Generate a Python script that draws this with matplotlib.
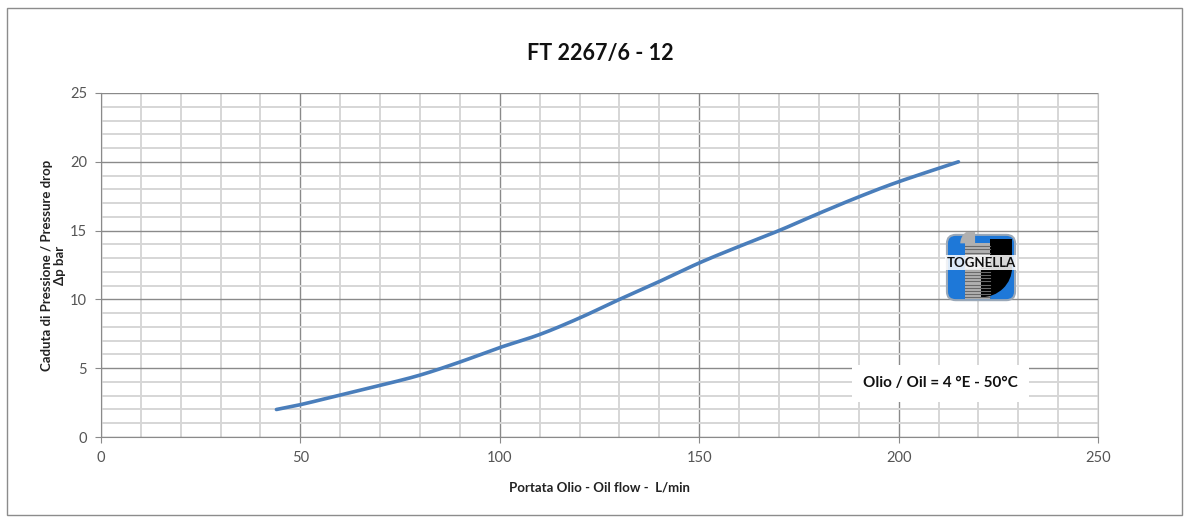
import matplotlib.pyplot as plt
from matplotlib.patches import FancyBboxPatch, Rectangle, Wedge
import numpy as np

flow = [44, 50, 60, 70, 80, 90, 100, 110, 120, 130, 140, 150, 160, 170, 180, 190, 200, 215]
dp = [2.0, 2.35, 3.05, 3.75, 4.5, 5.45, 6.5, 7.45, 8.65, 10.0, 11.3, 12.65,
      13.85, 15.0, 16.25, 17.45, 18.55, 20.0]

x_ticks = [0, 50, 100, 150, 200, 250]
y_ticks = [0, 5, 10, 15, 20, 25]


def catmull_rom(xs, ys, n=20):
    # smooth line through the points, like Excel's "smoothed line"
    p = np.column_stack([xs, ys]).astype(float)
    p = np.vstack([p[0], p, p[-1]])
    out = []
    for i in range(1, len(p) - 2):
        p0, p1, p2, p3 = p[i - 1], p[i], p[i + 1], p[i + 2]
        t = np.linspace(0, 1, n, endpoint=False)[:, None]
        out.append(0.5 * (2 * p1 + (-p0 + p2) * t + (2 * p0 - 5 * p1 + 4 * p2 - p3) * t**2
                          + (-p0 + 3 * p1 - 3 * p2 + p3) * t**3))
    out.append(p[-2][None, :])
    out = np.vstack(out)
    return out[:, 0], out[:, 1]


plt.rcParams['font.family'] = ['Lato', 'DejaVu Sans']

fig = plt.figure(figsize=(11.89, 5.21), dpi=100)
ax = fig.add_axes([0.0849, 0.1612, 0.8386, 0.6603])

# outer frame
fig.patches.append(Rectangle((0.006, 0.012), 0.988, 0.972, transform=fig.transFigure,
                             fill=False, edgecolor='#8c8c8c', linewidth=1))

ax.set_xlim(0, 250)
ax.set_ylim(0, 25)
ax.set_xticks(x_ticks)
ax.set_yticks(y_ticks)
ax.set_xticks(np.arange(0, 251, 10), minor=True)
ax.set_yticks(np.arange(0, 26, 1), minor=True)
ax.grid(which='minor', color='#d6d6d6', linewidth=1.4)
ax.grid(which='major', color='#8a8a8a', linewidth=1.0)
ax.set_axisbelow(True)
ax.tick_params(which='minor', length=0)
ax.tick_params(which='major', length=4, color='#8a8a8a', labelsize=10.5,
               labelcolor='#555555', pad=6)
for s in ax.spines.values():
    s.set_color('#8a8a8a')
ax.spines['top'].set_visible(False)
ax.spines['right'].set_color('#c0c0c0')

sx, sy = catmull_rom(flow, dp)
ax.plot(sx, sy, color='#4a7ebb', linewidth=2.6, solid_capstyle='round', zorder=3)

fig.text(0.505, 0.898, 'FT 2267/6 - 12', ha='center', va='center',
         fontsize=15.5, fontweight='bold', color='#111111')
ax.set_xlabel('Portata Olio - Oil flow -  L/min', fontsize=9.5, fontweight='bold',
              color='#222222', labelpad=12)
ax.set_ylabel('Caduta di Pressione / Pressure drop\nΔp bar', fontsize=9.5,
              fontweight='bold', color='#222222', labelpad=3, linespacing=1.1)

ax.text(210.5, 3.9, 'Olio / Oil = 4 °E - 50°C', ha='center', va='center',
        fontsize=11, fontweight='bold', color='#111111', zorder=5,
        bbox=dict(boxstyle='square,pad=0.75', facecolor='white', edgecolor='none'))

# logo
lax = fig.add_axes([944 / 1189, 1 - 303 / 521, 74 / 1189, 71 / 521])
lax.set_xlim(0, 1)
lax.set_ylim(0, 1)
lax.axis('off')
lax.add_patch(FancyBboxPatch((0.04, 0.04), 0.92, 0.92, boxstyle='round,pad=0,rounding_size=0.12',
                             facecolor='#1e78d8', edgecolor='#9aa8b8', linewidth=1.5))
lax.add_patch(Rectangle((0.28, 0.06), 0.34, 0.78, facecolor='#b0b0b0', edgecolor='none'))
for yy in np.arange(0.08, 0.84, 0.045):
    lax.plot([0.28, 0.62], [yy, yy], color='#6a6a6a', linewidth=0.8)
lax.add_patch(Wedge((0.42, 0.84), 0.2, 90, 180, facecolor='#b0b0b0', edgecolor='none'))
lax.add_patch(Wedge((0.5, 0.5), 0.42, 270, 360, facecolor='black', edgecolor='none'))
lax.add_patch(Rectangle((0.62, 0.5), 0.3, 0.4, facecolor='black', edgecolor='none'))
lax.text(0.5, 0.57, 'TOGNELLA', ha='center', va='center', fontsize=9.5,
         fontweight='bold', color='#111111',
         bbox=dict(boxstyle='square,pad=0.1', facecolor='white', edgecolor='none', alpha=0.85))

fig.savefig('out.png', dpi=100, facecolor='white')
